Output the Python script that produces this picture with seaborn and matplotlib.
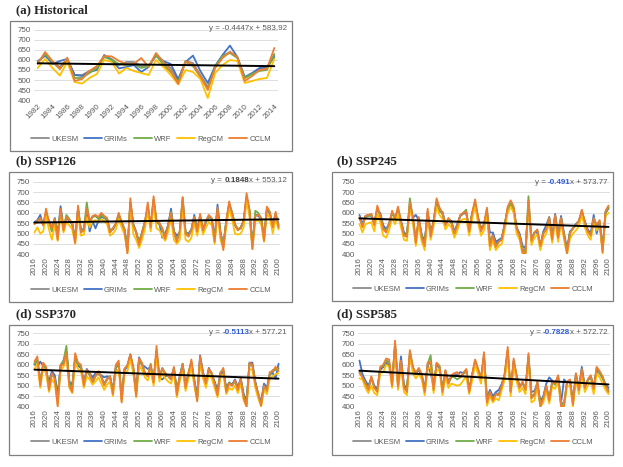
import numpy as np
import pandas as pd
import seaborn as sns
import matplotlib.pyplot as plt
from matplotlib.patches import Rectangle
from matplotlib.lines import Line2D

# models and colours (Excel style)
models = ["UKESM", "GRIMs", "WRF", "RegCM", "CCLM"]
colors = ["#8C8C8C", "#4472C4", "#70AD47", "#FFC000", "#ED7D31"]

hist_years = list(range(1982, 2015))
fut_years = list(range(2016, 2101))

#### Historical (1982-2014)
hist_ukesm = [595, 620, 590, 565, 605, 525, 525, 545, 560, 620, 605, 575, 590, 590, 570, 570, 620,
              590, 560, 495, 595, 585, 525, 465, 570, 620, 640, 615, 510, 530, 555, 560, 625]
hist_grims = [590, 625, 580, 595, 605, 525, 520, 540, 550, 625, 600, 558, 565, 575, 540, 565, 625,
              595, 580, 505, 590, 622, 545, 485, 570, 625, 672, 615, 515, 535, 560, 565, 615]
hist_wrf = [585, 630, 590, 555, 600, 510, 510, 535, 560, 615, 600, 580, 575, 580, 560, 570, 625,
            575, 540, 490, 590, 570, 515, 455, 565, 620, 635, 610, 510, 530, 545, 550, 630]
hist_regcm = [560, 605, 560, 522, 590, 490, 482, 510, 530, 600, 590, 532, 560, 545, 535, 525, 600,
              565, 525, 478, 550, 540, 505, 410, 535, 575, 600, 595, 485, 495, 505, 510, 605]
hist_cclm = [580, 640, 595, 555, 612, 495, 505, 545, 570, 620, 618, 595, 580, 580, 610, 565, 635,
             590, 545, 480, 595, 575, 520, 450, 560, 610, 640, 615, 495, 520, 550, 555, 660]

#### SSP126 (2016-2100)
ssp126_ukesm = [550, 555, 570, 545, 600, 560, 530, 565, 490, 610,
                525, 575, 565, 550, 470, 615, 510, 520, 610, 560,
                580, 585, 575, 590, 580, 570, 510, 525, 545, 590,
                555, 520, 420, 650, 545, 510, 455, 505, 555, 630,
                535, 660, 560, 550, 525, 485, 540, 600, 505, 470,
                510, 660, 505, 490, 515, 575, 515, 585, 520, 560,
                585, 570, 470, 620, 505, 440, 560, 640, 600, 545,
                520, 530, 560, 670, 610, 440, 590, 590, 575, 475,
                620, 600, 535, 595, 535]
ssp126_grims = [555, 565, 590, 540, 590, 560, 520, 575, 500, 632,
                530, 575, 560, 545, 470, 620, 515, 525, 600, 510,
                560, 525, 560, 580, 575, 565, 515, 520, 545, 585,
                550, 520, 425, 640, 545, 505, 460, 500, 555, 600,
                540, 650, 555, 545, 480, 500, 540, 620, 510, 490,
                505, 640, 505, 500, 520, 590, 520, 575, 510, 555,
                580, 570, 480, 640, 505, 445, 555, 630, 595, 540,
                520, 525, 560, 670, 605, 450, 590, 585, 570, 480,
                615, 595, 540, 590, 540]
ssp126_wrf = [550, 560, 575, 545, 595, 555, 510, 570, 495, 615,
              525, 590, 570, 550, 470, 620, 515, 520, 650, 555,
              580, 585, 570, 590, 575, 570, 510, 525, 545, 590,
              555, 520, 420, 650, 545, 505, 455, 505, 555, 625,
              530, 665, 560, 545, 520, 485, 540, 605, 505, 470,
              505, 675, 505, 490, 515, 575, 515, 585, 520, 560,
              585, 570, 470, 615, 505, 440, 560, 640, 600, 545,
              520, 530, 560, 675, 610, 440, 610, 600, 575, 475,
              620, 600, 535, 595, 525]
ssp126_regcm = [505, 530, 500, 510, 585, 520, 470, 540, 465, 595,
                505, 555, 540, 520, 450, 600, 490, 495, 580, 530,
                560, 565, 555, 570, 560, 545, 490, 500, 520, 570,
                530, 495, 410, 630, 500, 470, 430, 470, 520, 610,
                510, 640, 525, 515, 490, 465, 510, 570, 470, 450,
                470, 630, 470, 460, 480, 550, 490, 560, 495, 530,
                555, 540, 450, 600, 470, 430, 530, 620, 570, 500,
                495, 500, 530, 660, 580, 425, 560, 565, 545, 460,
                600, 575, 500, 570, 520]
ssp126_cclm = [545, 560, 575, 540, 620, 555, 525, 570, 470, 620,
               515, 580, 565, 550, 455, 635, 505, 515, 620, 560,
               585, 590, 580, 600, 585, 575, 505, 525, 550, 600,
               555, 515, 400, 670, 540, 505, 445, 500, 555, 650,
               530, 680, 560, 550, 525, 475, 540, 600, 505, 460,
               510, 675, 500, 485, 515, 580, 510, 595, 515, 560,
               590, 575, 460, 625, 500, 420, 560, 655, 600, 545,
               515, 530, 565, 695, 615, 425, 585, 590, 575, 465,
               630, 605, 530, 605, 530]

#### SSP245
ssp245_ukesm = [575, 545, 580, 585, 590, 550, 615, 590, 530, 520,
                550, 600, 575, 615, 560, 500, 495, 640, 575, 470,
                570, 490, 455, 600, 495, 560, 650, 615, 595, 545,
                570, 555, 505, 545, 585, 595, 600, 515, 595, 645,
                575, 520, 545, 610, 460, 495, 450, 465, 475, 545,
                620, 640, 620, 525, 495, 425, 420, 640, 470, 505,
                510, 430, 505, 525, 570, 480, 580, 490, 570, 495,
                420, 505, 525, 545, 560, 605, 555, 515, 495, 565,
                545, 550, 425, 600, 620]
ssp245_grims = [590, 545, 585, 590, 585, 555, 610, 600, 540, 520,
                545, 600, 580, 610, 560, 505, 495, 635, 575, 590,
                565, 495, 460, 605, 500, 560, 640, 605, 605, 545,
                570, 560, 510, 545, 585, 600, 600, 520, 595, 640,
                575, 525, 545, 600, 505, 505, 460, 470, 480, 545,
                615, 630, 615, 530, 500, 440, 430, 630, 475, 505,
                505, 440, 510, 540, 580, 485, 595, 495, 585, 500,
                425, 510, 525, 545, 560, 600, 560, 520, 500, 590,
                500, 555, 430, 600, 625]
ssp245_wrf = [575, 540, 580, 585, 590, 545, 620, 585, 525, 515,
              545, 600, 570, 620, 555, 495, 490, 670, 575, 465,
              570, 485, 450, 605, 490, 555, 655, 615, 595, 540,
              570, 550, 500, 540, 585, 600, 615, 510, 600, 650,
              575, 515, 540, 615, 450, 490, 445, 460, 475, 545,
              620, 645, 620, 520, 490, 420, 410, 680, 465, 505,
              515, 435, 500, 520, 575, 475, 585, 485, 575, 490,
              415, 505, 525, 540, 560, 610, 555, 510, 490, 570,
              540, 560, 420, 605, 625]
ssp245_regcm = [545, 505, 545, 550, 555, 510, 600, 555, 490, 480,
                515, 575, 545, 595, 530, 470, 465, 625, 550, 440,
                545, 460, 420, 585, 470, 535, 630, 590, 570, 520,
                545, 530, 480, 515, 560, 570, 570, 490, 570, 630,
                550, 490, 515, 590, 420, 465, 420, 440, 450, 520,
                600, 630, 600, 500, 470, 400, 400, 640, 445, 480,
                495, 420, 475, 500, 550, 455, 560, 460, 550, 470,
                400, 475, 500, 515, 535, 590, 530, 490, 470, 550,
                515, 540, 405, 585, 600]
ssp245_cclm = [580, 530, 585, 590, 595, 540, 635, 590, 520, 505,
               545, 610, 575, 630, 560, 490, 485, 650, 580, 455,
               580, 480, 440, 620, 485, 560, 670, 625, 600, 540,
               575, 555, 500, 540, 590, 600, 605, 510, 600, 665,
               580, 510, 545, 625, 440, 490, 435, 460, 470, 545,
               630, 660, 630, 525, 490, 410, 400, 660, 465, 505,
               520, 440, 500, 520, 575, 470, 590, 480, 575, 490,
               405, 500, 525, 540, 560, 615, 555, 510, 490, 575,
               540, 565, 410, 610, 635]

#### SSP370
ssp370_ukesm = [600, 620, 520, 605, 585, 500, 560, 540, 440, 595,
                610, 660, 520, 490, 630, 600, 590, 515, 570, 555,
                530, 550, 565, 545, 510, 535, 545, 475, 590, 605,
                440, 580, 595, 640, 585, 465, 620, 600, 560, 545,
                590, 525, 660, 545, 585, 560, 545, 535, 580, 470,
                545, 595, 500, 560, 610, 525, 445, 630, 560, 515,
                575, 560, 515, 470, 560, 575, 480, 515, 505, 525,
                490, 535, 455, 420, 605, 595, 515, 465, 420, 505,
                485, 560, 565, 580, 580]
ssp370_grims = [605, 590, 615, 595, 560, 520, 570, 550, 460, 590,
                620, 660, 520, 505, 625, 595, 585, 510, 580, 560,
                540, 560, 555, 550, 540, 545, 540, 480, 585, 600,
                450, 575, 590, 650, 580, 470, 635, 600, 590, 580,
                590, 530, 650, 535, 530, 545, 550, 535, 585, 475,
                545, 605, 500, 555, 600, 530, 450, 645, 565, 515,
                585, 555, 520, 480, 555, 565, 490, 515, 505, 530,
                495, 530, 460, 430, 610, 610, 520, 450, 425, 510,
                490, 555, 560, 535, 605]
ssp370_wrf = [605, 625, 515, 600, 580, 495, 555, 535, 430, 600,
              620, 690, 515, 485, 635, 600, 595, 510, 570, 550,
              510, 545, 560, 540, 505, 530, 545, 470, 590, 605,
              435, 580, 595, 645, 585, 460, 620, 600, 560, 545,
              605, 520, 665, 540, 580, 555, 545, 530, 580, 465,
              540, 605, 495, 555, 615, 520, 440, 630, 555, 510,
              575, 555, 510, 465, 565, 575, 475, 515, 500, 520,
              485, 530, 450, 415, 605, 600, 510, 455, 415, 495,
              480, 555, 575, 575, 585]
ssp370_regcm = [580, 605, 490, 585, 560, 470, 530, 510, 410, 575,
                590, 640, 490, 465, 610, 580, 570, 490, 545, 530,
                505, 520, 540, 510, 480, 505, 520, 450, 565, 580,
                425, 555, 570, 625, 560, 445, 595, 575, 540, 525,
                570, 500, 640, 520, 560, 535, 520, 510, 560, 445,
                520, 575, 475, 535, 590, 500, 430, 610, 535, 490,
                555, 535, 490, 445, 540, 555, 460, 490, 480, 500,
                465, 510, 430, 400, 580, 575, 490, 440, 400, 480,
                460, 535, 545, 555, 560]
ssp370_cclm = [615, 640, 500, 610, 590, 480, 560, 530, 400, 600,
               600, 660, 500, 470, 655, 610, 600, 500, 575, 560,
               520, 545, 570, 540, 500, 530, 545, 460, 600, 620,
               420, 580, 600, 650, 590, 450, 630, 610, 560, 545,
               600, 515, 690, 540, 580, 560, 545, 530, 590, 455,
               540, 600, 490, 560, 625, 520, 425, 640, 560, 510,
               580, 560, 510, 455, 560, 585, 470, 510, 500, 525,
               480, 535, 440, 400, 610, 600, 510, 460, 405, 500,
               475, 565, 570, 590, 570]

#### SSP585
ssp585_ukesm = [570, 545, 515, 490, 540, 495, 480, 580, 590, 615,
                610, 515, 690, 505, 605, 500, 480, 650, 585, 560,
                580, 550, 480, 600, 610, 490, 600, 590, 480, 570,
                515, 545, 555, 555, 540, 555, 575, 480, 550, 615,
                575, 535, 640, 430, 475, 440, 465, 460, 505, 555,
                660, 475, 615, 545, 495, 515, 485, 635, 450, 460,
                515, 415, 445, 500, 440, 520, 510, 545, 415, 420,
                515, 525, 420, 555, 485, 575, 495, 525, 545, 490,
                580, 565, 540, 505, 480]
ssp585_grims = [620, 555, 525, 500, 535, 500, 485, 575, 590, 605,
                600, 520, 680, 510, 640, 505, 485, 640, 585, 555,
                575, 545, 485, 595, 560, 495, 600, 585, 485, 565,
                520, 540, 550, 550, 565, 560, 575, 485, 550, 610,
                575, 540, 630, 440, 480, 450, 470, 480, 510, 550,
                645, 475, 610, 545, 500, 510, 490, 625, 470, 475,
                510, 425, 450, 510, 540, 525, 505, 540, 420, 530,
                515, 520, 430, 550, 490, 590, 495, 525, 545, 495,
                570, 560, 535, 505, 490]
ssp585_wrf = [565, 540, 515, 485, 540, 490, 475, 585, 595, 620,
              615, 505, 700, 500, 610, 495, 475, 660, 590, 555,
              580, 555, 475, 605, 645, 485, 605, 590, 475, 570,
              510, 545, 540, 530, 540, 555, 575, 475, 550, 620,
              575, 535, 650, 425, 470, 435, 460, 455, 500, 555,
              670, 470, 620, 545, 490, 515, 480, 645, 445, 455,
              515, 410, 440, 495, 435, 515, 505, 545, 410, 410,
              515, 525, 415, 555, 480, 575, 490, 525, 545, 485,
              585, 560, 540, 500, 475]
ssp585_regcm = [535, 530, 490, 465, 500, 465, 455, 560, 565, 600,
                590, 490, 670, 480, 590, 470, 455, 640, 560, 535,
                555, 530, 455, 580, 590, 465, 580, 570, 455, 545,
                490, 510, 505, 500, 505, 525, 545, 460, 525, 600,
                555, 510, 620, 405, 450, 420, 440, 430, 480, 530,
                640, 450, 600, 520, 470, 490, 460, 620, 420, 430,
                495, 400, 420, 475, 415, 495, 485, 520, 400, 400,
                495, 500, 400, 530, 460, 555, 470, 500, 520, 460,
                560, 540, 510, 480, 460]
ssp585_cclm = [560, 540, 510, 480, 545, 490, 470, 590, 600, 630,
               625, 500, 715, 495, 620, 490, 470, 670, 590, 560,
               585, 555, 470, 610, 615, 480, 610, 595, 470, 575,
               510, 550, 560, 565, 540, 560, 580, 470, 555, 625,
               580, 535, 660, 420, 470, 430, 460, 455, 500, 560,
               685, 470, 630, 550, 490, 520, 480, 655, 440, 455,
               520, 400, 440, 500, 430, 520, 510, 550, 400, 405,
               520, 530, 410, 560, 480, 580, 490, 530, 550, 485,
               590, 570, 545, 500, 470]

# trend line equations shown on the chart (slope, intercept)
trends = {"hist": (-0.4447, 583.92), "ssp126": (0.1848, 553.12), "ssp245": (-0.491, 573.77),
          "ssp370": (-0.5113, 577.21), "ssp585": (-0.7828, 572.72)}

W, H = 623, 467
sns.set_style("white")
plt.rcParams["font.family"] = ["Liberation Sans", "DejaVu Sans"]
txt_gray = "#595959"

fig = plt.figure(figsize=(W / 100, H / 100), dpi=100)


def fx(px):
    return px / W


def fy(py):
    return 1 - py / H


panels = [
    dict(key="hist", title="(a) Historical", years=hist_years,
         data=[hist_ukesm, hist_grims, hist_wrf, hist_regcm, hist_cclm],
         frame=(10, 21, 292, 151), axbox=(34, 30, 278, 100), title_xy=(16, 10),
         eq_xy=(287, 28), coef="-0.4447", coef_style=None, rest="x + 583.92",
         leg_xy=(151, 139), tick_step=2, rot=45),
    dict(key="ssp126", title="(b) SSP126", years=fut_years,
         data=[ssp126_ukesm, ssp126_grims, ssp126_wrf, ssp126_regcm, ssp126_cclm],
         frame=(9, 172, 292, 302), axbox=(33, 181.7, 280, 254.3), title_xy=(16, 161.5),
         eq_xy=(287, 181), coef="0.1848", coef_style="#404040", rest="x + 553.12",
         leg_xy=(151, 290), tick_step=4, rot=90),
    dict(key="ssp245", title="(b) SSP245", years=fut_years,
         data=[ssp245_ukesm, ssp245_grims, ssp245_wrf, ssp245_regcm, ssp245_cclm],
         frame=(332, 172, 613, 301), axbox=(358, 181.7, 610, 254.3), title_xy=(337, 161.5),
         eq_xy=(608, 182), coef="-0.491", coef_style="#2E5BD6", rest="x + 573.77",
         leg_xy=(473, 289), tick_step=4, rot=90),
    dict(key="ssp370", title="(d) SSP370", years=fut_years,
         data=[ssp370_ukesm, ssp370_grims, ssp370_wrf, ssp370_regcm, ssp370_cclm],
         frame=(9, 325, 292, 455), axbox=(33, 333.3, 280, 406.7), title_xy=(16, 314),
         eq_xy=(287, 332), coef="-0.5113", coef_style="#2E5BD6", rest="x + 577.21",
         leg_xy=(151, 442), tick_step=4, rot=90),
    dict(key="ssp585", title="(d) SSP585", years=fut_years,
         data=[ssp585_ukesm, ssp585_grims, ssp585_wrf, ssp585_regcm, ssp585_cclm],
         frame=(332, 325, 613, 455), axbox=(358, 333.3, 610, 406.7), title_xy=(337, 314),
         eq_xy=(608, 332), coef="-0.7828", coef_style="#2E5BD6", rest="x + 572.72",
         leg_xy=(473, 442), tick_step=4, rot=90),
]

renderer = fig.canvas.get_renderer()

for p in panels:
    yrs = p["years"]
    for s in p["data"]:
        assert len(s) == len(yrs)
    df = pd.DataFrame({
        "year": yrs * len(models),
        "value": np.concatenate(p["data"]),
        "model": np.repeat(models, len(yrs)),
    })
    l, t, r, b = p["axbox"]
    ax = fig.add_axes([fx(l), fy(b), fx(r) - fx(l), fy(t) - fy(b)])
    sns.lineplot(data=df, x="year", y="value", hue="model", hue_order=models,
                 palette=colors, linewidth=1.3, legend=False, ax=ax)
    slope, icpt = trends[p["key"]]
    idx = np.arange(1, len(yrs) + 1)
    sns.lineplot(x=yrs, y=slope * idx + icpt, color="black", linewidth=1.4, ax=ax)

    ax.set_xlim(yrs[0] - 0.5, yrs[-1] + 0.5)
    ax.set_ylim(400, 750)
    ax.set_yticks(range(400, 751, 50))
    ax.set_xticks(yrs[::p["tick_step"]])
    ax.set_xlabel("")
    ax.set_ylabel("")
    ax.grid(axis="y", color="#D9D9D9", linewidth=0.6)
    ax.set_axisbelow(True)
    for sp in ax.spines.values():
        sp.set_visible(False)
    ax.tick_params(length=0, labelsize=5.8, labelcolor=txt_gray, pad=2)
    if p["rot"] == 45:
        plt.setp(ax.get_xticklabels(), rotation=45, ha="right", va="top", rotation_mode="anchor")
    else:
        plt.setp(ax.get_xticklabels(), rotation=90, ha="right", va="center", rotation_mode="anchor")

    # frame around each chart
    fl, ft, fr, fb = p["frame"]
    fig.add_artist(Rectangle((fx(fl), fy(fb)), fx(fr) - fx(fl), fy(ft) - fy(fb),
                             transform=fig.transFigure, fill=False,
                             edgecolor="#7F7F7F", linewidth=0.9))

    # panel title
    fig.text(fx(p["title_xy"][0]), fy(p["title_xy"][1]), p["title"],
             family="Liberation Serif", fontweight="bold", fontsize=9.2,
             ha="left", va="center")

    # trend equation (right aligned, coefficient styled)
    ex, ey = p["eq_xy"]
    if p["coef_style"] is None:
        fig.text(fx(ex), fy(ey), "y = " + p["coef"] + p["rest"], fontsize=5.8,
                 color=txt_gray, ha="right", va="center")
    else:
        t1 = fig.text(fx(ex), fy(ey), p["rest"], fontsize=5.8, color=txt_gray,
                      ha="right", va="center")
        x0 = t1.get_window_extent(renderer).x0
        t2 = fig.text(x0 / fig.bbox.width, fy(ey), p["coef"], fontsize=5.8,
                      fontweight="bold", color=p["coef_style"], ha="right", va="center")
        x0 = t2.get_window_extent(renderer).x0
        fig.text(x0 / fig.bbox.width, fy(ey), "y = ", fontsize=5.8, color=txt_gray,
                 ha="right", va="center")

    # legend under each chart
    handles = [Line2D([0], [0], color=c, linewidth=1.3) for c in colors]
    fig.legend(handles, models, loc="center", bbox_to_anchor=(fx(p["leg_xy"][0]), fy(p["leg_xy"][1])),
               ncol=5, frameon=False, fontsize=5.5, labelcolor=txt_gray,
               handlelength=2.3, handletextpad=0.3, columnspacing=0.8)

fig.savefig("out.png", dpi=100)
